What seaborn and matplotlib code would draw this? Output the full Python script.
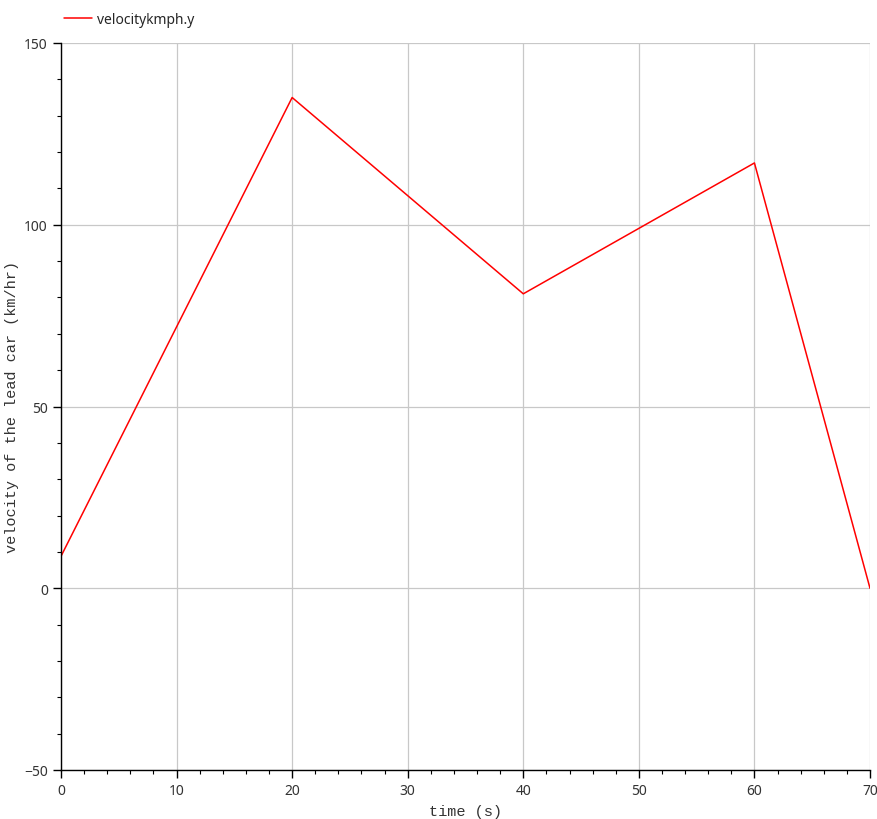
import numpy as np
import pandas as pd
import matplotlib
matplotlib.use("Agg")
import matplotlib.pyplot as plt
import seaborn as sns
from matplotlib.ticker import MultipleLocator

# puntos de quiebre de la velocidad del coche lider
tiempo = [0, 20, 40, 60, 70]
velocidad = [8.8, 135.0, 81.0, 117.0, 0.0]

df = pd.DataFrame({"time": tiempo, "velocitykmph.y": velocidad})

sns.set_style("white")
plt.rcParams['font.family'] = ['Noto Sans', 'DejaVu Sans']

fig = plt.figure(figsize=(8.78, 8.20), dpi=100)
ax = fig.add_axes([61/878, 1 - 771/820, (870-61)/878, (771-44)/820])

sns.lineplot(data=df, x="time", y="velocitykmph.y", color="red", linewidth=1.1,
             ax=ax, label="velocitykmph.y")

ax.set_xlim(0, 70)
ax.set_ylim(-50, 150)
ax.xaxis.set_major_locator(MultipleLocator(10))
ax.xaxis.set_minor_locator(MultipleLocator(2))
ax.yaxis.set_major_locator(MultipleLocator(50))
ax.yaxis.set_minor_locator(MultipleLocator(10))
ax.grid(True, which="major", color="#c8c8c8", linewidth=0.9)
ax.set_axisbelow(True)

for s in ["top", "right"]:
    ax.spines[s].set_visible(False)
for s in ["left", "bottom"]:
    ax.spines[s].set_color("black")
    ax.spines[s].set_linewidth(1.0)

ax.tick_params(which="major", direction="out", length=6, width=1, color="black",
               labelsize=10, labelcolor="#333333", left=True, bottom=True)
ax.tick_params(which="minor", direction="out", length=3, width=0.8, color="black",
               left=True, bottom=True)

ax.set_xlabel("time (s)", family="Liberation Mono", fontsize=11, color="#333333")
ax.set_ylabel("velocity of the lead car (km/hr)", family="Liberation Mono",
              fontsize=11, color="#333333")
ax.yaxis.set_label_coords(-0.052, 0.5)

ax.legend(loc="lower left", bbox_to_anchor=(-0.005, 1.012), frameon=False,
          fontsize=10, handlelength=2.0, handletextpad=0.4,
          borderaxespad=0.3, borderpad=0.2)

fig.savefig("out.png", dpi=100)
